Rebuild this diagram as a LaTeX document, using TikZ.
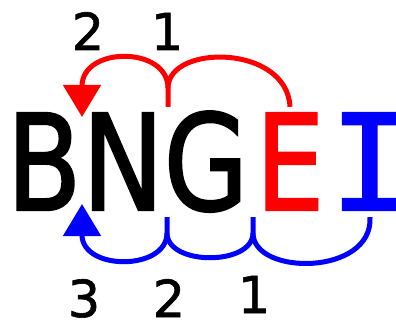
\documentclass[tikz,border=0pt]{standalone}
\usepackage{fontspec}
\setmainfont{DejaVu Sans}
\newfontfamily\letterfont[FakeBold=1.8]{DejaVu Sans}
\newfontfamily\barfont[FakeBold=1.8]{DejaVu Sans Mono}
\newfontfamily\digitfont[FakeBold=1.2]{DejaVu Sans}
\usetikzlibrary{arrows.meta}

\tikzset{
  letter/.style={inner sep=0pt, anchor=base, font=\fontsize{133}{133}\letterfont, xscale=0.82},
  digit/.style={inner sep=0pt, anchor=base, font=\fontsize{51}{51}\digitfont},
  moveline/.style={line width=5pt, -{Triangle[length=32pt,width=37pt]}},
  stemline/.style={line width=5pt}
}

\begin{document}
\begin{tikzpicture}[x=1pt,y=-1pt]
  \useasboundingbox (0,0) rectangle (396,323);
  % letters
  \node[letter] (B) at (44,210) {B};
  \node[letter] (N) at (123,210) {N};
  \node[letter] (G) at (206,210) {G};
  \node[letter, red] (E) at (290,210) {E};
  \node[letter, blue, xscale=1/0.82, font=\fontsize{133}{133}\barfont] (I) at (370,210) {I};

  % step numbers
  \node[digit] (t2) at (88,50) {2};
  \node[digit] (t1) at (167,50) {1};
  \node[digit] (b3) at (84,317) {3};
  \node[digit] (b2) at (169,317) {2};
  \node[digit] (b1) at (254,313) {1};

  % gaps between the letters
  \coordinate (topBN) at (82,117);
  \coordinate (topNG) at (168,88);
  \coordinate (stemNG) at (168,107);
  \coordinate (botBN) at (82,204);
  \coordinate (botNG) at (167,233);
  \coordinate (botGE) at (253,233);

  % red: E jumps over G and N
  \draw[red, stemline] ([yshift=6pt]E.north) .. controls (287,44) and (168,44) .. (topNG) -- (stemNG);
  \draw[red, moveline] (topNG) .. controls (168,46) and (82,46) .. (topBN);

  % blue: I jumps over E, G and N
  \draw[blue, stemline] ([yshift=-7pt]I.south) .. controls (373,276) and (253,276) .. (botGE) -- (253,217);
  \draw[blue, stemline] (botGE) .. controls (253,266) and (167,266) .. (botNG) -- (167,217);
  \draw[blue, moveline] (botNG) .. controls (167,271) and (82,271) .. (botBN);
\end{tikzpicture}
\end{document}
